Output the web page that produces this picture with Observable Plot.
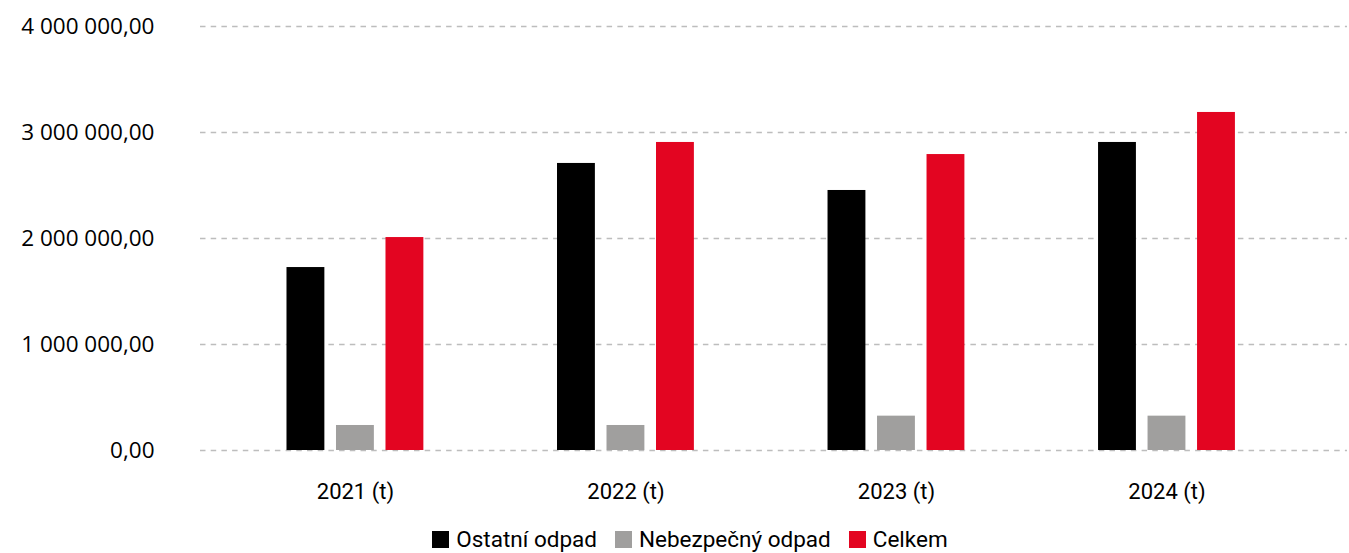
<!DOCTYPE html>
<html>
<head>
<meta charset="utf-8">
<script src="https://cdn.jsdelivr.net/npm/d3@7"></script>
<script src="https://cdn.jsdelivr.net/npm/@observablehq/plot@0.6"></script>
<style>
  html, body { margin: 0; padding: 0; background: #fff; }
  body { width: 1349px; height: 553px; overflow: hidden; font-family: Roboto, "Noto Sans", sans-serif; }
  #legend { display: flex; justify-content: center; align-items: center; gap: 18px; margin-top: 6px; height: 26px; font-size: 22.5px; line-height: 26px; color: #000; padding-left: 31px; }
  #legend .item { display: flex; align-items: center; gap: 7px; white-space: nowrap; }
  #legend .sw { width: 17px; height: 17px; display: inline-block; }
  .yax text { font-family: "Open Sans", Roboto, sans-serif; font-size: 22.5px; }
</style>
</head>
<body>
<div id="chart"></div>
<div id="legend"></div>
<script>
const years = ["2021 (t)", "2022 (t)", "2023 (t)", "2024 (t)"];
const seriesNames = ["Ostatní odpad", "Nebezpečný odpad", "Celkem"];
const seriesColors = ["#000000", "#a09f9e", "#e30521"];
const ostatni = [1726000, 2708000, 2453000, 2906000];
const nebezpecny = [236000, 236000, 324000, 324000];
const celkem = [2009000, 2906000, 2792000, 3189000];
const yTicks = [0, 1000000, 2000000, 3000000, 4000000];

const seriesValues = [ostatni, nebezpecny, celkem];
const offsets = [-49.5, 0, 49.5];

const locale = d3.formatLocale({decimal: ",", thousands: " ", grouping: [3], currency: ["", ""]});
const fmt = locale.format(",.2f");

const marks = [
  Plot.ruleY(yTicks, {stroke: "#bdbdbd", strokeWidth: 1.4, strokeDasharray: "5.5,5.2"})
];
seriesNames.forEach((name, i) => {
  const rows = years.map((y, j) => ({year: y, value: seriesValues[i][j], series: name}));
  marks.push(Plot.barY(rows, {x: "year", y: "value", fill: seriesColors[i], dx: offsets[i]}));
});

const chart = Plot.plot({
  width: 1349,
  height: 520,
  marginLeft: 200,
  marginRight: 2,
  marginTop: 26,
  marginBottom: 70,
  style: {fontFamily: "Roboto, 'Noto Sans', sans-serif", fontSize: "22px", color: "#000", background: "#fff"},
  x: {domain: years, paddingInner: 0.86, paddingOuter: 0.55, align: 0.457, round: false, tickSize: 0, tickPadding: 33, label: null},
  y: {domain: [0, 4000000], ticks: yTicks, tickFormat: fmt, tickSize: 0, tickPadding: 46, label: null},
  marks
});
chart.querySelectorAll("g[aria-label='y-axis tick label'], g[aria-label='y-axis']").forEach(g => g.classList.add("yax"));
document.getElementById("chart").appendChild(chart);

const legend = document.getElementById("legend");
seriesNames.forEach((name, i) => {
  const item = document.createElement("span");
  item.className = "item";
  const sw = document.createElement("span");
  sw.className = "sw";
  sw.style.background = seriesColors[i];
  const t = document.createElement("span");
  t.textContent = name;
  item.appendChild(sw);
  item.appendChild(t);
  legend.appendChild(item);
});
</script>
</body>
</html>
